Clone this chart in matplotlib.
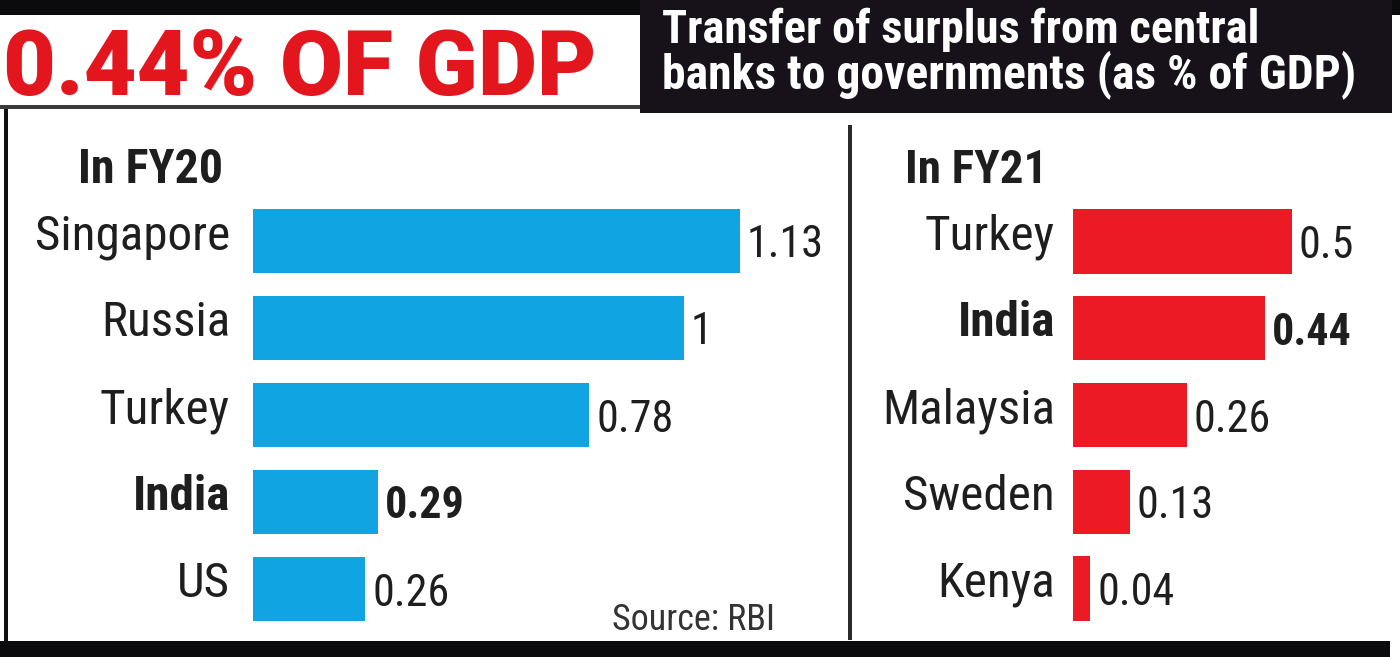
import matplotlib
matplotlib.use('Agg')
import matplotlib.pyplot as plt
from matplotlib import font_manager as fm
from matplotlib.patches import Rectangle

# ---------------- data ----------------
fy20_countries = ['Singapore', 'Russia', 'Turkey', 'India', 'US']
fy20_values = [1.13, 1.0, 0.78, 0.29, 0.26]
fy20_labels = ['1.13', '1', '0.78', '0.29', '0.26']

fy21_countries = ['Turkey', 'India', 'Malaysia', 'Sweden', 'Kenya']
fy21_values = [0.50, 0.44, 0.26, 0.13, 0.04]
fy21_labels = ['0.5', '0.44', '0.26', '0.13', '0.04']

highlight = 'India'
title = '0.44% OF GDP'
subtitle = ['Transfer of surplus from central',
            'banks to governments (as % of GDP)']
panel_titles = ['In FY20', 'In FY21']
source = 'Source: RBI'

# ---------------- font choice ----------------
names = {f.name for f in fm.fontManager.ttflist}
prefs = ['Liberation Sans Narrow', 'Roboto Condensed', 'Noto Sans Condensed',
         'Open Sans Condensed', 'DejaVu Sans Condensed',
         'Noto Sans SemiCondensed', 'Roboto', 'Liberation Sans']
STRETCH = 'normal'
FAM = None
for p in prefs:
    if p in names:
        FAM = p
        break
if FAM in ('Roboto', 'Liberation Sans', None):
    for f in fm.fontManager.ttflist:
        if f.stretch == 'condensed' and f.name in ('DejaVu Sans', 'Noto Sans', 'Roboto', 'Open Sans'):
            FAM, STRETCH = f.name, 'condensed'
            break
if FAM is None:
    FAM = 'DejaVu Sans'
FONT = [FAM, 'DejaVu Sans']
TITLE_FONT = ['Roboto', 'Liberation Sans', 'DejaVu Sans']

# ---------------- style ----------------
W, H = 1400, 657
BLUE = '#10a4e2'
RED = '#ec1a24'
TITLE_RED = '#e3161e'
DARK = '#1e1e1e'
BOX = '#17121a'

fig = plt.figure(figsize=(W / 100, H / 100), dpi=100)
fig.patch.set_facecolor('white')
renderer = fig.canvas.get_renderer()


def px_rect(x0, ytop, x1, ybot):
    return [x0 / W, 1 - ybot / H, (x1 - x0) / W, (ybot - ytop) / H]


def fx(x):
    return x / W


def fy(y):
    return 1 - y / H


def fit_size(s, target_w, base, weight='normal', max_size=None, family=None,
             stretch=None):
    family = family or FONT
    stretch = stretch or STRETCH
    t = fig.text(0, 0, s, fontsize=base, fontweight=weight, family=family,
                 fontstretch=stretch)
    w = t.get_window_extent(renderer).width
    t.remove()
    size = base * target_w / w
    if max_size is not None:
        size = min(size, max_size)
    return size


# background / decoration axes in pixel coordinates
bg = fig.add_axes([0, 0, 1, 1])
bg.set_xlim(0, W)
bg.set_ylim(H, 0)
bg.axis('off')
bg.add_patch(Rectangle((0, 0), W, 15, color='#0b0a0c', lw=0))
bg.add_patch(Rectangle((640, 0), 752, 113, color=BOX, lw=0))
bg.add_patch(Rectangle((0, 105), 640, 4, color='#3a3a3a', lw=0))
bg.add_patch(Rectangle((4, 109), 4, 536, color='#111111', lw=0))
bg.add_patch(Rectangle((0, 641), 1390, 16, color='#0b0a0c', lw=0))
bg.add_patch(Rectangle((848, 125), 3.5, 515, color='#2a2a2a', lw=0))

LABEL_SIZE = fit_size('Singapore', 195, 30, max_size=37)
VALUE_SIZE = fit_size('0.78', 77, 30, max_size=37)


def panel(rect, countries, values, labels, color, xmax, pad_pt):
    ax = fig.add_axes(rect)
    y = list(range(len(countries)))
    ax.barh(y, values, height=0.74, color=color, lw=0)
    ax.set_xlim(0, xmax)
    ax.set_ylim(len(countries) - 0.5, -0.5)
    ax.axis('off')
    for i, (c, v, l) in enumerate(zip(countries, values, labels)):
        w = 'bold' if c == highlight else 'normal'
        ax.annotate(c, (0, i), xytext=(-pad_pt, 7), textcoords='offset points',
                    ha='right', va='center_baseline', fontsize=LABEL_SIZE,
                    family=FONT, fontstretch=STRETCH, fontweight=w, color=DARK)
        ax.annotate(l, (v, i), xytext=(5, 0), textcoords='offset points',
                    ha='left', va='center_baseline', fontsize=VALUE_SIZE,
                    family=FONT, fontstretch=STRETCH, fontweight=w, color=DARK)
    return ax


# left panel: 0 at x=253 px, 431 px per unit
panel(px_rect(253, 197.5, 253 + 431 * 1.3, 632.5), fy20_countries, fy20_values,
      fy20_labels, BLUE, 1.3, 16.5)
# right panel: 0 at x=1073 px, 437 px per unit
panel(px_rect(1073, 198, 1073 + 437 * 0.7, 632), fy21_countries, fy21_values,
      fy21_labels, RED, 0.7, 13)


def put(x, ybase, s, target_w, base, weight='normal', color=DARK, max_size=None,
        family=None, stretch=None):
    family = family or FONT
    stretch = stretch or STRETCH
    size = fit_size(s, target_w, base, weight, max_size, family, stretch)
    fig.text(fx(x), fy(ybase), s, fontsize=size, fontweight=weight, color=color,
             family=family, fontstretch=stretch, va='baseline', ha='left')


put(3, 95, title, 593, 60, 'heavy', TITLE_RED, max_size=70,
    family=TITLE_FONT, stretch='normal')
put(662, 43, subtitle[0], 598, 30, 'bold', 'white', max_size=36)
put(662, 88, subtitle[1], 694, 30, 'bold', 'white', max_size=36)
put(78, 183, panel_titles[0], 145, 30, 'bold', DARK, max_size=35)
put(905, 183, panel_titles[1], 142, 30, 'bold', DARK, max_size=35)
put(612, 630, source, 163, 24, 'normal', '#333333', max_size=26)

fig.savefig('out.png', dpi=100, facecolor='white')
